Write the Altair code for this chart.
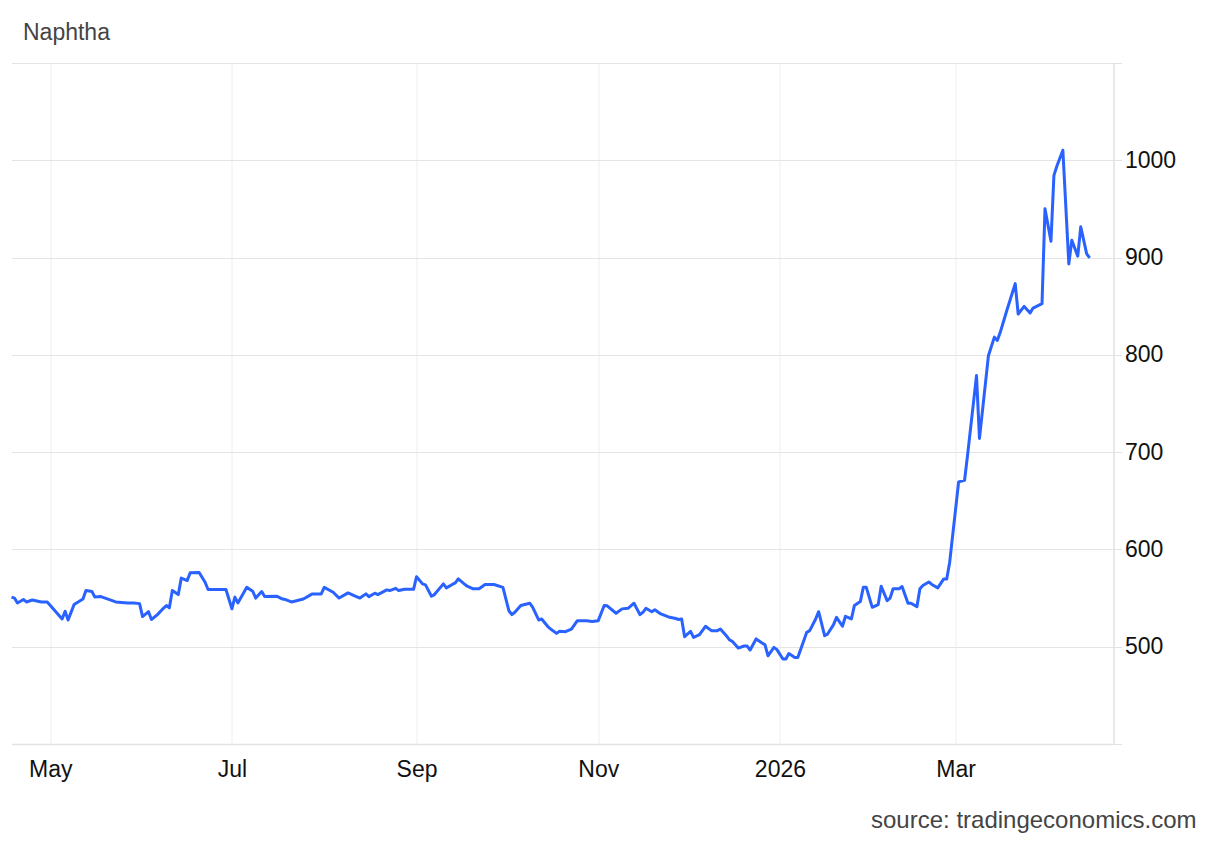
import altair as alt
import pandas as pd

# Naphtha price
dates = [
    "2025-04-18", "2025-04-19", "2025-04-20", "2025-04-22", "2025-04-23", "2025-04-25", "2025-04-28", "2025-04-30",
    "2025-05-02", "2025-05-05", "2025-05-06", "2025-05-07", "2025-05-09", "2025-05-12", "2025-05-13", "2025-05-15",
    "2025-05-16", "2025-05-18", "2025-05-23", "2025-05-27", "2025-05-29", "2025-05-31",
    "2025-06-01", "2025-06-03", "2025-06-04", "2025-06-06", "2025-06-08", "2025-06-09", "2025-06-10", "2025-06-11",
    "2025-06-13", "2025-06-14", "2025-06-16", "2025-06-17", "2025-06-20", "2025-06-22", "2025-06-23", "2025-06-29",
    "2025-07-01", "2025-07-02", "2025-07-03", "2025-07-06", "2025-07-08", "2025-07-09", "2025-07-11", "2025-07-12",
    "2025-07-16", "2025-07-18", "2025-07-19", "2025-07-21", "2025-07-25", "2025-07-28", "2025-07-31",
    "2025-08-01", "2025-08-04", "2025-08-06", "2025-08-09", "2025-08-11", "2025-08-13", "2025-08-15", "2025-08-16",
    "2025-08-18", "2025-08-19", "2025-08-22", "2025-08-23", "2025-08-25", "2025-08-26", "2025-08-28", "2025-08-31",
    "2025-09-01", "2025-09-03", "2025-09-04", "2025-09-06", "2025-09-07", "2025-09-10", "2025-09-11", "2025-09-13",
    "2025-09-14", "2025-09-15", "2025-09-17", "2025-09-18", "2025-09-20", "2025-09-22", "2025-09-24", "2025-09-27",
    "2025-09-30",
    "2025-10-02", "2025-10-03", "2025-10-04", "2025-10-06", "2025-10-09", "2025-10-10", "2025-10-12", "2025-10-13",
    "2025-10-15", "2025-10-16", "2025-10-18", "2025-10-19", "2025-10-21", "2025-10-23", "2025-10-25", "2025-10-28",
    "2025-10-30",
    "2025-11-01", "2025-11-03", "2025-11-04", "2025-11-07", "2025-11-09", "2025-11-11", "2025-11-13", "2025-11-15",
    "2025-11-16", "2025-11-17", "2025-11-19", "2025-11-20", "2025-11-22", "2025-11-25", "2025-11-27", "2025-11-28",
    "2025-11-29", "2025-11-30",
    "2025-12-02", "2025-12-03", "2025-12-05", "2025-12-07", "2025-12-09", "2025-12-11", "2025-12-12", "2025-12-14",
    "2025-12-15", "2025-12-16", "2025-12-18", "2025-12-20", "2025-12-21", "2025-12-22", "2025-12-24", "2025-12-26",
    "2025-12-27", "2025-12-28", "2025-12-30", "2025-12-31",
    "2026-01-02", "2026-01-03", "2026-01-04", "2026-01-06", "2026-01-07", "2026-01-09", "2026-01-10", "2026-01-11",
    "2026-01-13", "2026-01-14", "2026-01-16", "2026-01-17", "2026-01-19", "2026-01-20", "2026-01-22", "2026-01-23",
    "2026-01-25", "2026-01-26", "2026-01-28", "2026-01-29", "2026-01-30",
    "2026-02-01", "2026-02-03", "2026-02-04", "2026-02-06", "2026-02-07", "2026-02-08", "2026-02-10", "2026-02-11",
    "2026-02-13", "2026-02-14", "2026-02-16", "2026-02-17", "2026-02-18", "2026-02-20", "2026-02-21", "2026-02-23",
    "2026-02-25", "2026-02-26", "2026-02-27",
    "2026-03-02", "2026-03-04", "2026-03-05", "2026-03-08", "2026-03-09", "2026-03-12", "2026-03-14", "2026-03-15",
    "2026-03-16", "2026-03-18", "2026-03-21", "2026-03-22", "2026-03-24", "2026-03-26", "2026-03-27", "2026-03-30",
    "2026-03-31",
    "2026-04-02", "2026-04-03", "2026-04-04", "2026-04-06", "2026-04-08", "2026-04-09", "2026-04-11", "2026-04-12",
    "2026-04-14", "2026-04-15",
]

prices = [
    551, 550, 545, 548.5, 546, 548, 546, 546,
    539, 528.5, 536.4, 527.5, 543.3, 549, 557.7, 556.7,
    551, 551.5, 546, 545, 545, 544.3,
    531, 536, 528, 533, 539.5, 542.3, 540, 557.7,
    553.6, 570.5, 568, 576, 576.3, 566.3, 558.8, 558.8,
    539, 551, 545, 561, 557, 550, 556.7, 551.5,
    551.9, 549, 548.5, 546, 549, 554.3, 554.3,
    561, 556, 550, 555.3, 552.6, 550, 554.3, 551.5,
    555, 553.6, 558.4, 557.7, 560, 557.7, 559, 559,
    572, 564.6, 563.6, 551.9, 553.6, 564.6, 560.5, 564,
    565.6, 569.7, 564.6, 562.2, 559.5, 559.5, 564, 564,
    561,
    537, 533, 535.4, 542.3, 544.7, 540.5, 527.5, 528.5,
    521, 518.2, 513.7, 515.8, 515.5, 518.2, 526.8, 526.8,
    526,
    526.8, 542.3, 542, 534.4, 538.9, 539.5, 544.7, 533,
    535.4, 539.5, 536, 538, 533.7, 530.2, 529, 528,
    528.5, 510.3,
    515.8, 509.6, 512.4, 521, 516.5, 516.5, 518.2, 511.3,
    507.2, 505.5, 498.6, 500.7, 500.7, 496.6, 508, 503.8,
    502, 490.7, 499.3, 497,
    487.3, 487.3, 493, 489, 489, 506.2, 514.8, 516.5,
    528.5, 536, 511.3, 513, 522.7, 530.2, 521, 531.3,
    528.5, 542.3, 546.4, 561, 561,
    540.5, 543.3, 562.2, 547.4, 550, 559.5, 559.5, 561.9,
    544.7, 544.7, 541.2, 559.5, 562.9, 566.5, 564, 560.5,
    569.7, 569.7, 586.9,
    669.4, 671.1, 696.9, 778.7, 714.1, 799, 818.2, 814.8,
    823.4, 843.8, 873.2, 842, 849.8, 843, 848.1, 852.6,
    950.2,
    916.8, 984.5, 994.2, 1010.3, 893.5, 917.8, 901.4, 931.6,
    903.8, 899.7,
]

y_ticks = [400, 500, 600, 700, 800, 900, 1000, 1100]
month_ticks = [(2025, 5, 1), (2025, 7, 1), (2025, 9, 1), (2025, 11, 1), (2026, 1, 1), (2026, 3, 1)]
x_start = (2025, 4, 18)
x_end = (2026, 4, 23)

df = pd.DataFrame({"date": dates, "price": prices})

FONT = "Liberation Sans"


def dt(ymd):
    y, m, d = ymd
    return alt.DateTime(year=y, month=m, date=d, utc=True)


x_axis = alt.Axis(
    values=[dt(t) for t in month_ticks],
    labelExpr="utcmonth(datum.value) == 0 ? utcFormat(datum.value, '%Y') : utcFormat(datum.value, '%b')",
    ticks=False,
    labelPadding=14,
    labelFont=FONT,
    labelFontSize=23,
    labelColor="#111111",
    labelFlush=False,
    labelOverlap=False,
    grid=True,
    gridColor="#eaeef4",
    domainColor="#e2e2e2",
    domainWidth=1.5,
    title="source: tradingeconomics.com",
    titleFont=FONT,
    titleFontSize=24,
    titleFontWeight="normal",
    titleColor="#444444",
    titleAlign="right",
    titleBaseline="alphabetic",
    titleX=1184.5,
    titleY=83,
)

y_axis = alt.Axis(
    orient="right",
    values=y_ticks,
    format="d",
    labelExpr="datum.value >= 500 && datum.value <= 1000 ? datum.label : ''",
    tickSize=8,
    tickColor="#e2e2e2",
    labelPadding=3,
    labelFont=FONT,
    labelFontSize=23,
    labelColor="#111111",
    grid=True,
    gridColor="#e4e4e4",
    domainColor="#e2e2e2",
    domainWidth=1.5,
    title="Naphtha",
    titleAngle=0,
    titleFont=FONT,
    titleFontSize=23,
    titleFontWeight="normal",
    titleColor="#444444",
    titleAlign="left",
    titleBaseline="alphabetic",
    titleX=-1091,
    titleY=-23.5,
)

chart = alt.Chart(df).mark_line(
    color="#2962ff",
    strokeWidth=3,
    strokeJoin="round",
).encode(
    x=alt.X("date:T", scale=alt.Scale(type="utc", domain=[dt(x_start), dt(x_end)]), axis=x_axis),
    y=alt.Y("price:Q", scale=alt.Scale(domain=[400, 1100], nice=False, zero=False), axis=y_axis),
).properties(
    width=1102,
    height=681,
    autosize=alt.AutoSizeParams(type="none"),
    padding={"left": 3.5, "top": 55, "right": 91, "bottom": 89},
    background="white",
).configure_view(
    strokeWidth=0
)

chart.save("out.html", embed_options={"renderer": "svg", "actions": False})
